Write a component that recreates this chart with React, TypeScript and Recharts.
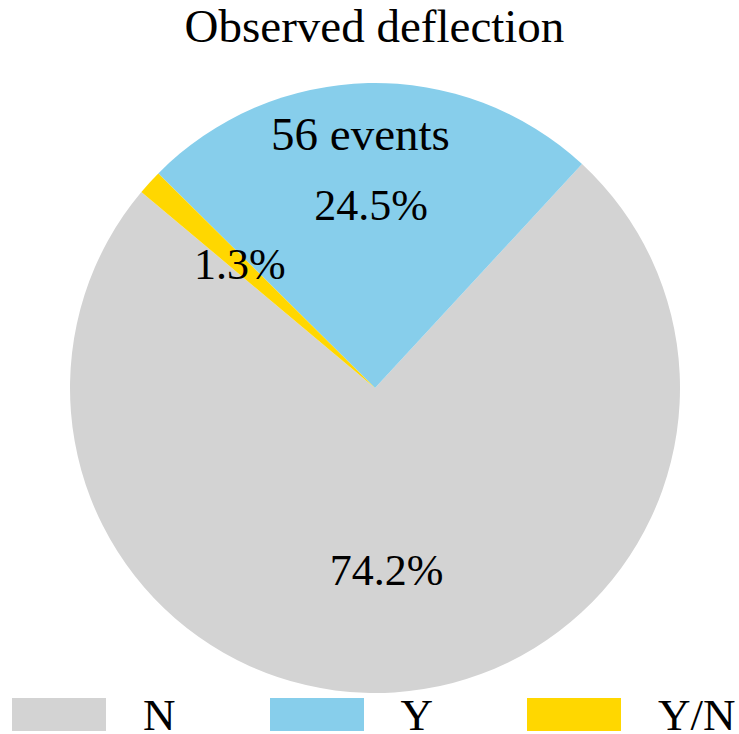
import { PieChart, Pie, Cell, Legend } from 'recharts';

// Observed deflection: event counts per outcome
const categories = ['N', 'Y', 'Y/N'];
const counts = [170, 56, 3];
const colors = ['#d3d3d3', '#87ceeb', '#ffd700'];
const annotatedCategory = 'Y';
const title = 'Observed deflection';

const data = categories.map((name, i) => ({ name, value: counts[i] }));

const FONT = "'Liberation Serif', 'Times New Roman', serif";
const RAD = Math.PI / 180;

function SliceLabel(props: any) {
  const { cx, cy, midAngle, outerRadius, percent, name, value } = props;
  const r = outerRadius * 0.6;
  const x = cx + r * Math.cos(-midAngle * RAD);
  const y = cy + r * Math.sin(-midAngle * RAD);
  const pct = `${(percent * 100).toFixed(1)}%`;
  // annotation with the event count sits further out on the annotated slice
  let note = null;
  if (name === annotatedCategory) {
    const r2 = outerRadius * 0.834;
    const a2 = midAngle + 2;
    note = (
      <text
        x={cx + r2 * Math.cos(-a2 * RAD)}
        y={cy + r2 * Math.sin(-a2 * RAD)}
        textAnchor="middle"
        dominantBaseline="central"
        fontFamily="Liberation Serif"
        fontSize={47}
        fill="#000"
      >
        {`${value} events`}
      </text>
    );
  }
  return (
    <g>
      <text
        x={x}
        y={y}
        textAnchor="middle"
        dominantBaseline="central"
        fontFamily="Liberation Serif"
        fontSize={44}
        fill="#000"
      >
        {pct}
      </text>
      {note}
    </g>
  );
}

function LegendContent(props: any) {
  const payload = props.payload ?? [];
  return (
    <div style={{ position: 'relative', width: 739, height: 39, fontFamily: FONT }}>
      {payload.map((entry: any, i: number) => {
        const x0 = 12 + i * 257.5;
        return (
          <div key={entry.value}>
            <div
              style={{
                position: 'absolute',
                left: x0,
                top: 3,
                width: 94,
                height: 33,
                background: entry.color,
              }}
            />
            <div
              style={{
                position: 'absolute',
                left: x0 + 131,
                top: 2,
                fontSize: 45,
                lineHeight: '36px',
                color: '#000',
                whiteSpace: 'nowrap',
              }}
            >
              {entry.value}
            </div>
          </div>
        );
      })}
    </div>
  );
}

export default function App() {
  return (
    <div
      style={{
        position: 'absolute',
        left: 0,
        top: 0,
        width: 739,
        height: 734,
        background: '#fff',
        fontFamily: FONT,
      }}
    >
      <div
        style={{
          position: 'absolute',
          left: 0,
          top: 3,
          width: 749,
          textAlign: 'center',
          fontSize: 47,
          lineHeight: '46px',
          color: '#000',
        }}
      >
        {title}
      </div>
      <PieChart
        width={739}
        height={734}
        margin={{ top: 0, right: 0, bottom: 0, left: 0 }}
        style={{ fontFamily: FONT }}
      >
        <Pie
          data={data}
          dataKey="value"
          nameKey="name"
          cx={375}
          cy={388}
          outerRadius={305}
          startAngle={140}
          endAngle={500}
          stroke="none"
          label={SliceLabel}
          labelLine={false}
          isAnimationActive={false}
        >
          {data.map((d, i) => (
            <Cell key={d.name} fill={colors[i]} stroke="none" />
          ))}
        </Pie>
        <Legend
          content={LegendContent}
          wrapperStyle={{ position: 'absolute', left: 0, top: 695, width: 739, height: 39 }}
        />
      </PieChart>
    </div>
  );
}
